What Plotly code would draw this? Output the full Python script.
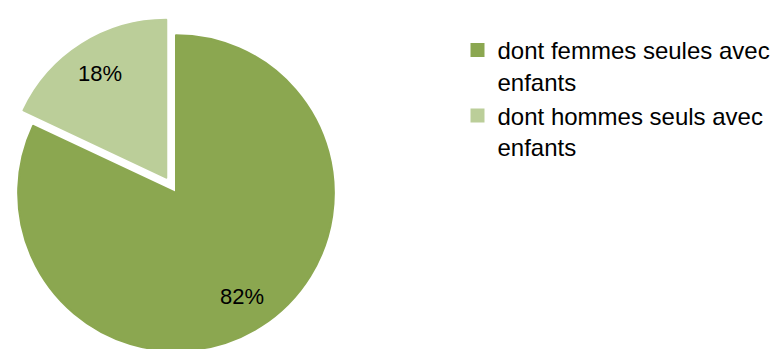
import math
import plotly.graph_objects as go

categories = ["dont femmes seules avec<br>enfants", "dont hommes seuls avec<br>enfants"]
values = [82, 18]
colors = ["#8BA750", "#BBCE99"]
pulls = [0, 0.115]

W, H = 800, 369   # page is cropped to 774x349 by the viewport
T = 17
box = 352
label_frac = 0.78

fig = go.Figure(go.Pie(
    labels=categories,
    values=values,
    sort=False,
    direction="clockwise",
    rotation=0,
    pull=pulls,
    marker=dict(colors=colors, line=dict(width=2, color=colors)),
    textinfo="none",
    hoverinfo="skip",
    domain=dict(x=[0, box / W], y=[0, 1]),
))

# percentage labels placed along each slice's mid-angle (derived from the values)
total = sum(values)
r_px = (box / 2) / (1 + max(pulls))
cx_paper = (box / 2) / W
cy_paper = 0.5
cum = 0
for v, p in zip(values, pulls):
    mid = (cum + v / 2) / total * 2 * math.pi
    cum += v
    d = (label_frac + p) * r_px
    fig.add_annotation(
        x=cx_paper + d * math.sin(mid) / W,
        y=cy_paper + d * math.cos(mid) / box,
        xref="paper", yref="paper",
        text=f"{round(v / total * 100)}%",
        showarrow=False,
        font=dict(family="Liberation Sans", size=22, color="black"),
        xanchor="center", yanchor="middle",
    )

fig.update_layout(
    width=W, height=H,
    margin=dict(l=0, r=0, t=T, b=0),
    paper_bgcolor="white",
    plot_bgcolor="white",
    showlegend=True,
    legend=dict(
        x=457.5 / W, xanchor="left",
        y=1 - (28 - T) / box, yanchor="top",
        font=dict(family="Liberation Sans", size=24, color="black"),
        bgcolor="rgba(0,0,0,0)",
        valign="top",
        tracegroupgap=0,
        itemclick=False, itemdoubleclick=False,
    ),
)

fig.write_html(
    "out.html",
    post_script="document.documentElement.style.overflow='hidden';document.body.style.overflow='hidden';document.body.style.margin='0';",
)
